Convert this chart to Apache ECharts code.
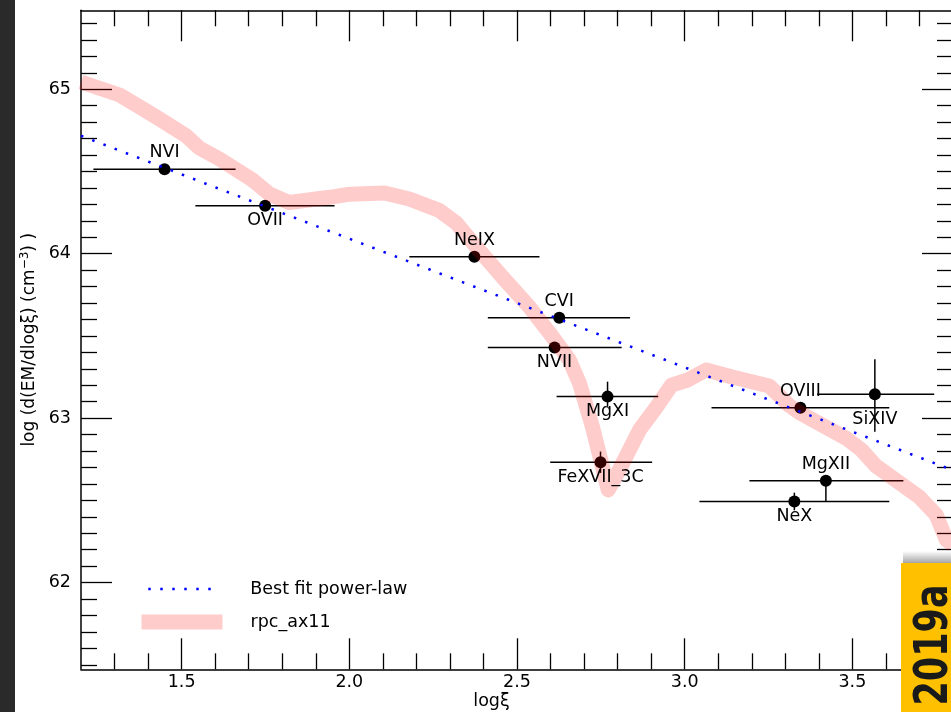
<!DOCTYPE html>
<html><head><meta charset="utf-8">
<script src="https://cdn.jsdelivr.net/npm/echarts@6/dist/echarts.min.js"></script>
<style>html,body{margin:0;padding:0;background:#fff}#c{width:951px;height:712px}</style>
</head><body><div id="c"></div>
<script>
// ---- data ----
const ionNames = ['NVI','OVII','NeIX','CVI','NVII','MgXI','FeXVII_3C','OVIII','SiXIV','MgXII','NeX'];
const ionLogXi = [1.449,1.749,2.373,2.626,2.612,2.770,2.749,3.345,3.567,3.421,3.327];
const ionLogEM = [64.514,64.292,63.982,63.611,63.429,63.131,62.732,63.064,63.146,62.620,62.493];
const xiLow  = [1.237,1.541,2.179,2.413,2.413,2.618,2.599,3.080,3.395,3.193,3.044];
const xiHigh = [1.661,1.956,2.567,2.837,2.812,2.921,2.903,3.610,3.744,3.652,3.610];
const emLow  = [64.514,64.292,63.982,63.611,63.429,63.070,62.667,63.064,62.918,62.491,62.440];
const emHigh = [64.514,64.292,63.982,63.611,63.429,63.222,62.797,63.064,63.358,62.650,62.547];
const labelSide = ['top','bottom','top','top','bottom','bottom','bottom','top','bottom','top','bottom'];

const rpcLogXi = [1.200,1.315,1.374,1.434,1.514,1.553,1.613,1.711,1.762,1.821,1.941,2.001,2.105,2.179,2.269,2.319,2.379,2.456,2.537,2.606,2.656,2.686,2.725,2.772,2.805,2.865,2.916,2.961,3.009,3.064,3.142,3.252,3.312,3.341,3.482,3.527,3.571,3.699,3.750,3.780,3.800];
const rpcLogEM = [65.044,64.965,64.894,64.819,64.716,64.643,64.576,64.449,64.363,64.311,64.343,64.362,64.369,64.333,64.262,64.187,64.041,63.859,63.676,63.494,63.354,63.214,62.947,62.564,62.685,62.928,63.068,63.201,63.232,63.293,63.250,63.196,63.077,63.035,62.877,62.807,62.708,62.521,62.412,62.260,62.230];

const fitLogXi = [1.2, 3.8];
const fitLogEM = [64.717, 62.683];

const xMajorTicks = [1.5, 2.0, 2.5, 3.0, 3.5];
const xMinorTicks = [1.3,1.4,1.6,1.7,1.8,1.9,2.1,2.2,2.3,2.4,2.6,2.7,2.8,2.9,3.1,3.2,3.3,3.4,3.6,3.7];
const yMajorTicks = [62, 63, 64, 65];
const yMinorTicks = [61.5,61.6,61.7,61.8,61.9,62.1,62.2,62.3,62.4,62.5,62.6,62.7,62.8,62.9,63.1,63.2,63.3,63.4,63.5,63.6,63.7,63.8,63.9,64.1,64.2,64.3,64.4,64.5,64.6,64.7,64.8,64.9,65.1,65.2,65.3,65.4];

// ---- chart ----
const FONT = '"DejaVu Sans", sans-serif';
const FS = 17.5;
const X_MIN = 1.2, X_MAX = 3.8, Y_MIN = 61.473, Y_MAX = 65.48;
const labelDy = {top: -16.5, bottom: 15, SiXIV: 25};

const chart = echarts.init(document.getElementById('c'), null, {renderer: 'canvas'});

function xAxisDef(pos, ticks, len, withLine, withLabel) {
  return {
    type: 'value', position: pos, min: X_MIN, max: X_MAX, gridIndex: 0,
    axisLine: {show: withLine, onZero: false, lineStyle: {color: '#000', width: 1.5}},
    axisTick: {show: true, inside: true, length: len, customValues: ticks, lineStyle: {color: '#000', width: 1.3}},
    axisLabel: withLabel ? {show: true, customValues: ticks, formatter: v => Number(v).toFixed(1), fontSize: FS, fontFamily: FONT, color: '#000', margin: 4} : {show: false},
    splitLine: {show: false}, minorTick: {show: false}
  };
}
function yAxisDef(pos, ticks, len, withLine, withLabel) {
  return {
    type: 'value', position: pos, min: Y_MIN, max: Y_MAX, gridIndex: 0,
    axisLine: {show: withLine, onZero: false, lineStyle: {color: '#000', width: 1.5}},
    axisTick: {show: true, inside: true, length: len, customValues: ticks, lineStyle: {color: '#000', width: 1.3}},
    axisLabel: withLabel ? {show: true, customValues: ticks, formatter: v => String(Math.round(v)), fontSize: FS, fontFamily: FONT, color: '#000', margin: 10} : {show: false},
    splitLine: {show: false}, minorTick: {show: false}
  };
}

const xAxes = [
  xAxisDef('bottom', xMajorTicks, 31, true, true),
  xAxisDef('bottom', xMinorTicks, 16, false, false),
  xAxisDef('top', xMajorTicks, 31, true, false),
  xAxisDef('top', xMinorTicks, 16, false, false)
];
Object.assign(xAxes[0], {name: 'logξ', nameLocation: 'middle', nameGap: 23, nameMoveOverlap: false,
  nameTextStyle: {fontSize: FS, fontFamily: FONT, color: '#000', padding: [0, 51, 0, 0]}});
const yAxes = [
  yAxisDef('left', yMajorTicks, 31, true, true),
  yAxisDef('left', yMinorTicks, 16, false, false),
  yAxisDef('right', yMajorTicks, 31, true, false),
  yAxisDef('right', yMinorTicks, 16, false, false)
];
Object.assign(yAxes[0], {name: 'log (d(EM/dlogξ) (cm{sup|−3}) )', nameLocation: 'middle', nameGap: 41, nameRotate: 90, nameMoveOverlap: false,
  nameTextStyle: {fontSize: 17, fontFamily: FONT, color: '#000', lineHeight: 21,
    rich: {sup: {fontSize: 12, fontFamily: FONT, color: '#000', verticalAlign: 'top', lineHeight: 21}}}});

const ionData = ionNames.map((n, i) => [ionLogXi[i], ionLogEM[i], xiLow[i], xiHigh[i], emLow[i], emHigh[i]]);

const option = {
  animation: false,
  backgroundColor: '#fff',
  grid: {left: 81, top: 10.3, width: 872, height: 659, containLabel: false, outerBoundsMode: 'none'},
  xAxis: xAxes,
  yAxis: yAxes,
  legend: [
    {data: ['Best fit power-law'], left: 141, top: 575, selectedMode: false, itemWidth: 66, itemHeight: 18,
      lineStyle: {width: 2.5, dashOffset: -1}, itemStyle: {opacity: 0},
      textStyle: {fontSize: FS, fontFamily: FONT, color: '#000', padding: [0, 0, 0, 32]}},
    {data: ['rpc_ax11'], left: 129, top: 608, selectedMode: false, itemWidth: 81, itemHeight: 18,
      lineStyle: {width: 15}, itemStyle: {opacity: 0},
      textStyle: {fontSize: FS, fontFamily: FONT, color: '#000', padding: [0, 0, 0, 23]}}
  ],
  series: [
    {
      type: 'custom', name: 'ions', z: 2, xAxisIndex: 0, yAxisIndex: 0,
      data: ionData,
      encode: {x: [0, 2, 3], y: [1, 4, 5]},
      renderItem: function (params, api) {
        const c = api.coord([api.value(0), api.value(1)]);
        const l = api.coord([api.value(2), api.value(1)]);
        const r = api.coord([api.value(3), api.value(1)]);
        const b = api.coord([api.value(0), api.value(4)]);
        const t = api.coord([api.value(0), api.value(5)]);
        return {type: 'group', children: [
          {type: 'line', shape: {x1: l[0], y1: l[1], x2: r[0], y2: r[1]}, style: {stroke: '#000', lineWidth: 1.5}},
          {type: 'line', shape: {x1: b[0], y1: b[1], x2: t[0], y2: t[1]}, style: {stroke: '#000', lineWidth: 1.5}},
          {type: 'circle', shape: {cx: c[0], cy: c[1], r: 6}, style: {fill: '#000'}}
        ]};
      }
    },
    {
      type: 'line', name: 'rpc_ax11', z: 3, xAxisIndex: 0, yAxisIndex: 0,
      data: rpcLogXi.map((x, i) => [x, rpcLogEM[i]]),
      showSymbol: false, symbol: 'none', clip: true,
      itemStyle: {color: 'rgba(255,0,0,0.2)', opacity: 0},
      lineStyle: {color: 'rgba(255,0,0,0.2)', width: 15, join: 'round', cap: 'butt'}
    },
    {
      type: 'line', name: 'Best fit power-law', z: 4, xAxisIndex: 0, yAxisIndex: 0,
      data: fitLogXi.map((x, i) => [x, fitLogEM[i]]),
      showSymbol: false, symbol: 'none',
      itemStyle: {color: '#0000ff', opacity: 0},
      lineStyle: {color: '#0000ff', width: 2.5, type: [2.5, 9.5], cap: 'butt'}
    },
    {
      type: 'custom', name: 'labels', z: 6, xAxisIndex: 0, yAxisIndex: 0,
      data: ionData,
      encode: {x: 0, y: 1},
      renderItem: function (params, api) {
        const i = params.dataIndex;
        const c = api.coord([api.value(0), api.value(1)]);
        const name = ionNames[i];
        const dy = labelDy[name] !== undefined ? labelDy[name] : labelDy[labelSide[i]];
        return {type: 'text', x: c[0], y: c[1] + dy,
          style: {text: name, fill: '#000', fontSize: FS, fontFamily: FONT, align: 'center', verticalAlign: 'middle'}};
      }
    }
  ],
  graphic: [
    {type: 'rect', z: 100, shape: {x: 0, y: 0, width: 15, height: 712}, style: {fill: '#2a2a2a'}},
    {type: 'rect', z: 100, shape: {x: 903, y: 551, width: 48, height: 12},
      style: {fill: {type: 'linear', x: 0, y: 0, x2: 0, y2: 1, colorStops: [{offset: 0, color: 'rgba(0,0,0,0)'}, {offset: 1, color: 'rgba(0,0,0,0.35)'}]}}},
    {type: 'rect', z: 101, shape: {x: 901, y: 563, width: 50, height: 149}, style: {fill: '#FFC000'}},
    {type: 'text', z: 102, x: 935, y: 645, rotation: Math.PI / 2, scaleY: 1.3,
      style: {text: '2019a', fill: '#1a1a1a', fontSize: 35, fontWeight: 'bold', fontFamily: FONT, align: 'center', verticalAlign: 'middle'}}
  ]
};
chart.setOption(option);
</script>
</body></html>
